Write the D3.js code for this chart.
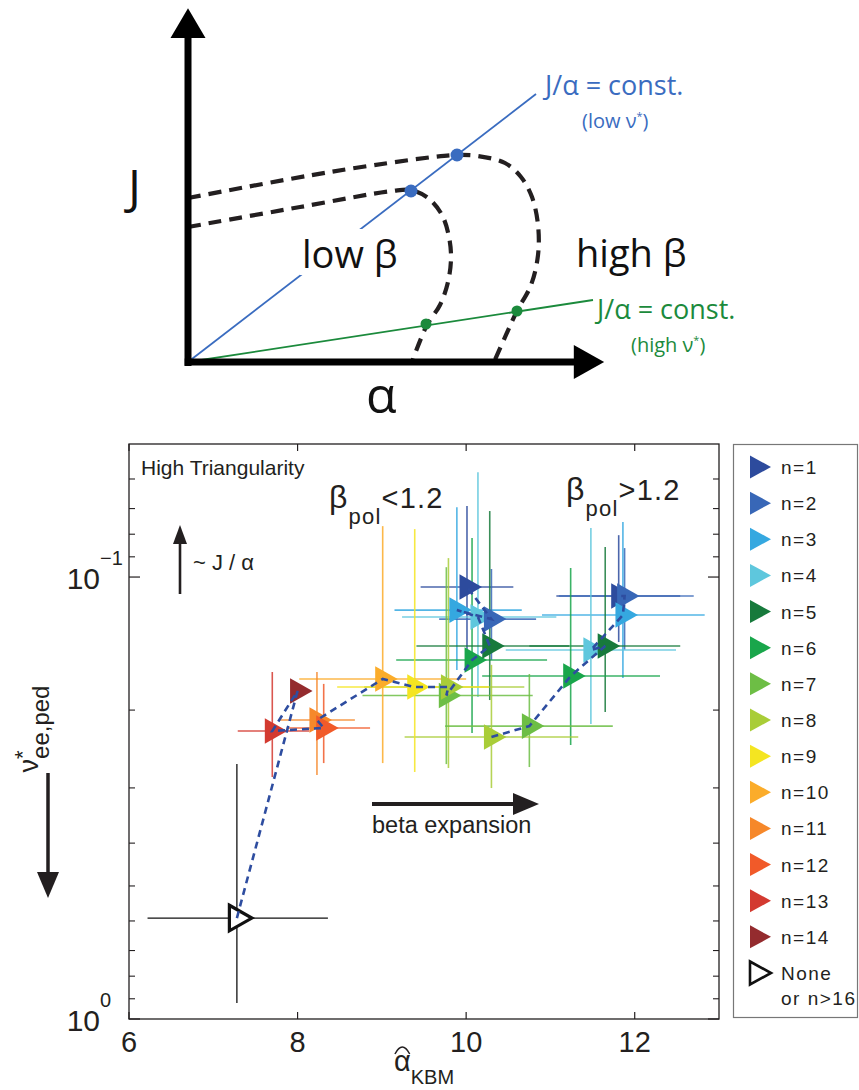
<!DOCTYPE html>
<html>
<head>
<meta charset="utf-8">
<script src="https://cdn.jsdelivr.net/npm/d3@7/dist/d3.min.js"></script>
<style>
html,body{margin:0;padding:0;background:#fff;}
svg{display:block;}
</style>
</head>
<body>
<svg id="chart" width="859" height="1090"></svg>
<script>
// ================= DATA =================
// Legend / series
const seriesNames  = ["n=1","n=2","n=3","n=4","n=5","n=6","n=7","n=8","n=9","n=10","n=11","n=12","n=13","n=14","None"];
const seriesExtra  = "or n>16";
const seriesColors = ["#2d4b9d","#3867b7","#35a8e0","#5ec7dd","#177a3c","#19a64b","#6dbe45","#a9cd38","#f4e521","#fbac2a","#f6882a","#f15a29","#d33a30","#942b2e","none"];

// Points (drawing order). Series index: 0 -> n=1 ... 13 -> n=14, 14 -> None or n>16
const ptSeries   = [0,1,2,3,4,5, 0,2,3,1,5,4, 6,7, 6,7, 8,9,10,11,12,13,14];
const ptAlpha    = [11.81,11.88,11.86,11.48,11.65,11.24, 10.01,9.89,10.14,10.30,10.07,10.28, 9.765,9.79, 10.75,10.30, 9.39,9.01,8.23,8.31,7.70,8.00,7.28];
const ptNu       = [0.1104,0.1104,0.1219,0.1463,0.1432,0.1675, 0.1053,0.1188,0.1231,0.1245,0.1541,0.1432, 0.1853,0.1774, 0.2174,0.2301, 0.1774,0.1701,0.2106,0.2195,0.2230,0.1811,0.591];
const ptAlphaLo  = [11.07,11.10,10.90,10.47,10.75,10.19, 9.46,9.15,9.24,9.68,9.17,9.41, 8.77,8.79, 9.75,9.27, 8.47,8.02,7.79,7.87,7.29,8.00,6.22];
const ptAlphaHi  = [12.54,12.70,12.83,12.49,12.54,12.30, 10.56,10.66,11.07,10.83,10.96,11.22, 10.79,10.69, 11.74,11.33, 10.27,10.00,8.68,8.86,8.14,8.00,8.36];
const ptNuLo     = [0.0804,0.0860,0.0751,0.0775,0.0855,0.0954, 0.0691,0.0695,0.0579,0.0959,0.0816,0.0709, 0.095,0.0906, 0.1657,0.158, 0.0779,0.0767,0.164,0.1745,0.164,0.1811,0.265];
const ptNuHi     = [0.1403,0.146,0.1692,0.2151,0.202,0.2399, 0.150,0.1623,0.1868,0.154,0.2254,0.1898, 0.265,0.2704, 0.2691,0.3002, 0.2761,0.2636,0.2805,0.2636,0.2835,0.1811,0.920];

// Dashed trajectories (indices into the point arrays, in decreasing n)
const pathLowBeta  = [22,21,20,19,18,17,16,13,12,10,11,8,7,9,6];
const pathHighBeta = [15,14,5,4,3,2,1,0];

// Axes ticks
const xTickValues  = [6,8,10,12];
const yTickValues  = [0.1,1];
const yTickExps    = ["\u22121","0"];
const yMinorTicks  = [0.06,0.07,0.08,0.09,0.2,0.3,0.4,0.5,0.6,0.7,0.8,0.9];

// Schematic (alpha, J) in arbitrary units
const schemLowBeta  = [[0,3.293],[2.732,3.780],[4.976,4.171],[5.439,4.195],[5.854,4.000],[6.195,3.585],[6.366,3.049],[6.415,2.537],[6.341,1.951],[6.146,1.390],[5.829,0.902],[5.463,0]];
const schemHighBeta = [[0,4.000],[3.463,4.634],[5.976,4.999],[6.561,5.049],[7.073,5.024],[7.732,4.854],[8.122,4.512],[8.390,4.024],[8.537,3.341],[8.537,2.610],[8.366,1.878],[8.024,1.244],[7.756,0.659],[7.463,0]];
const constLowNu    = [8.488,6.537];
const constHighNu   = [9.878,1.512];
const dotsLowNu     = [[5.439,4.171],[6.561,5.049]];
const dotsHighNu    = [[5.805,0.927],[8.024,1.244]];

// ================= DRAW =================
const svg = d3.select("#chart");
const FB = "'Liberation Sans', Arial, Helvetica, sans-serif";
const FT = "'Open Sans', 'Noto Sans', sans-serif";
const INK = "#231f20";
const BLUE = "#3a6cc0", GREEN = "#1b8a3c";

// ---------- Schematic ----------
const sa = d3.scaleLinear().domain([0,10]).range([188,598]);
const sj = d3.scaleLinear().domain([0,8]).range([362,34]);
const sch = svg.append("g");

sch.append("line").attr("x1",sa(0)).attr("y1",sj(0)).attr("x2",sa(constLowNu[0])).attr("y2",sj(constLowNu[1]))
  .attr("stroke",BLUE).attr("stroke-width",1.8);
sch.append("line").attr("x1",sa(0)).attr("y1",sj(0)).attr("x2",sa(constHighNu[0])).attr("y2",sj(constHighNu[1]))
  .attr("stroke",GREEN).attr("stroke-width",1.8);

// low beta label with white background
sch.append("rect").attr("x",300).attr("y",229).attr("width",102).attr("height",46).attr("fill","#fff");
sch.append("text").attr("x",302).attr("y",268).attr("font-family",FT).attr("font-size",38).attr("fill","#111").text("low β");
sch.append("text").attr("x",576).attr("y",267).attr("font-family",FT).attr("font-size",38).attr("fill","#111").text("high β");

const schLine = d3.line().x(d=>sa(d[0])).y(d=>sj(d[1])).curve(d3.curveCatmullRom.alpha(0.5));
[schemLowBeta, schemHighBeta].forEach(c=>{
  sch.append("path").attr("d",schLine(c)).attr("fill","none").attr("stroke",INK)
    .attr("stroke-width",4.2).attr("stroke-dasharray","13,8");
});

dotsLowNu.forEach(d=>sch.append("circle").attr("cx",sa(d[0])).attr("cy",sj(d[1])).attr("r",6.5).attr("fill",BLUE));
dotsHighNu.forEach(d=>sch.append("circle").attr("cx",sa(d[0])).attr("cy",sj(d[1])).attr("r",5.5).attr("fill",GREEN));

// axes
sch.append("line").attr("x1",sa(0)).attr("y1",sj(-0.1)).attr("x2",sa(0)).attr("y2",sj(7.9)).attr("stroke","#000").attr("stroke-width",7);
sch.append("path").attr("d",`M${sa(0)-17.5},${sj(7.9)}L${sa(0)+17.5},${sj(7.9)}L${sa(0)},${sj(8.63)}Z`).attr("fill","#000");
sch.append("line").attr("x1",sa(-0.08)).attr("y1",sj(0)).attr("x2",sa(9.42)).attr("y2",sj(0)).attr("stroke","#000").attr("stroke-width",7);
sch.append("path").attr("d",`M${sa(9.41)},${sj(0)-17}L${sa(10.15)},${sj(0)}L${sa(9.41)},${sj(0)+17}Z`).attr("fill","#000");

sch.append("text").attr("x",128).attr("y",204).attr("font-family",FT).attr("font-size",48).attr("fill","#111").text("J");
sch.append("text").attr("x",366).attr("y",413).attr("font-family",FT).attr("font-size",50).attr("fill","#111").text("α");

function constLabel(x0,y0,x1,y1,col,sub){
  sch.append("text").attr("x",x0).attr("y",y0).attr("font-family",FT).attr("font-size",27).attr("fill",col).text("J/α = const.");
  const t = sch.append("text").attr("x",x1).attr("y",y1).attr("font-family",FT).attr("font-size",20).attr("fill",col);
  t.append("tspan").text("("+sub+" ν");
  t.append("tspan").attr("font-size",11).attr("dy",-8).text("*");
  t.append("tspan").attr("dy",8).text(")");
}
constLabel(545,95,582,128,BLUE,"low");
constLabel(597,319,631,352,GREEN,"high");

// ---------- Bottom plot ----------
const P = {l:129, r:719, t:444, b:1019};
const x = d3.scaleLinear().domain([6,13]).range([P.l,P.r]);
const y = d3.scaleLog().domain([0.05,1]).range([P.t,P.b]);
const g = svg.append("g");

// error bars
const eb = g.append("g");
ptAlpha.forEach((a,i)=>{
  const s = ptSeries[i];
  const col = s===14 ? "#111" : seriesColors[s];
  const w = s===14 ? 1.3 : 1.6;
  const op = s===14 ? 1 : 0.85;
  eb.append("line").attr("x1",x(ptAlphaLo[i])).attr("x2",x(ptAlphaHi[i])).attr("y1",y(ptNu[i])).attr("y2",y(ptNu[i]))
    .attr("stroke",col).attr("stroke-width",w).attr("stroke-opacity",op);
  eb.append("line").attr("x1",x(a)).attr("x2",x(a)).attr("y1",y(ptNuLo[i])).attr("y2",y(ptNuHi[i]))
    .attr("stroke",col).attr("stroke-width",w).attr("stroke-opacity",op);
});

// markers
const tri = "M-7.5,-12.8L15,0L-7.5,12.8Z";
const mk = g.append("g");
ptAlpha.forEach((a,i)=>{
  const s = ptSeries[i];
  const p = mk.append("path").attr("d",tri).attr("transform",`translate(${x(a)},${y(ptNu[i])})`);
  if (s===14) p.attr("fill","#fff").attr("stroke","#111").attr("stroke-width",3.2).attr("stroke-linejoin","miter");
  else p.attr("fill",seriesColors[s]);
});

// dashed trajectories
const trj = d3.line().x(i=>x(ptAlpha[i])).y(i=>y(ptNu[i]));
[pathLowBeta, pathHighBeta].forEach(pth=>{
  g.append("path").attr("d",trj(pth)).attr("fill","none").attr("stroke","#2e4da0")
    .attr("stroke-width",2.6).attr("stroke-dasharray","7,5");
});

// frame
g.append("rect").attr("x",P.l).attr("y",P.t).attr("width",P.r-P.l).attr("height",P.b-P.t)
  .attr("fill","none").attr("stroke",INK).attr("stroke-width",1.3);

// x ticks
xTickValues.forEach(v=>{
  g.append("line").attr("x1",x(v)).attr("x2",x(v)).attr("y1",P.b).attr("y2",P.b-7).attr("stroke",INK).attr("stroke-width",1.2);
  g.append("line").attr("x1",x(v)).attr("x2",x(v)).attr("y1",P.t).attr("y2",P.t+7).attr("stroke",INK).attr("stroke-width",1.2);
  g.append("text").attr("x",x(v)).attr("y",1052).attr("text-anchor","middle").attr("font-family",FB)
    .attr("font-size",29).attr("fill",INK).text(v);
});
// y ticks
yTickValues.forEach((v,i)=>{
  g.append("line").attr("x1",P.l).attr("x2",P.l+11).attr("y1",y(v)).attr("y2",y(v)).attr("stroke",INK).attr("stroke-width",1.2);
  g.append("line").attr("x1",P.r).attr("x2",P.r-11).attr("y1",y(v)).attr("y2",y(v)).attr("stroke",INK).attr("stroke-width",1.2);
  g.append("text").attr("x",100).attr("y",y(v)+12).attr("text-anchor","end").attr("font-family",FB)
    .attr("font-size",30).attr("fill",INK).text("10");
  g.append("text").attr("x",100).attr("y",y(v)-12).attr("font-family",FB)
    .attr("font-size",20).attr("fill",INK).text(yTickExps[i]);
});
yMinorTicks.forEach(v=>{
  g.append("line").attr("x1",P.l).attr("x2",P.l+6).attr("y1",y(v)).attr("y2",y(v)).attr("stroke",INK).attr("stroke-width",1.1);
  g.append("line").attr("x1",P.r).attr("x2",P.r-6).attr("y1",y(v)).attr("y2",y(v)).attr("stroke",INK).attr("stroke-width",1.1);
});

// x label
const xl = g.append("text").attr("x",(P.l+P.r)/2).attr("y",1071).attr("text-anchor","middle")
  .attr("font-family",FB).attr("font-size",29).attr("fill",INK);
xl.append("tspan").text("α");
xl.append("tspan").attr("font-size",20).attr("dy",13).text("KBM");
const a0 = xl.node().getStartPositionOfChar(0).x, a1 = xl.node().getEndPositionOfChar(0).x;
g.append("path").attr("d",`M${a0+1},1054 Q${(a0+a1)/2},1040 ${a1-1},1054`).attr("fill","none")
  .attr("stroke",INK).attr("stroke-width",1.5);

// y label (rotated)
const ylg = g.append("g").attr("transform","translate(38,729) rotate(-90)");
const ylt = ylg.append("text").attr("text-anchor","middle").attr("font-family",FB).attr("font-size",27).attr("fill",INK);
ylt.append("tspan").text("ν");
const star = ylt.append("tspan").attr("font-size",22).attr("dy",-8).text("*");
const subT = ylt.append("tspan").attr("font-size",24).attr("dy",19).text("ee,ped");
subT.attr("dx",-star.node().getComputedTextLength());

// y-label arrow
g.append("line").attr("x1",48).attr("x2",48).attr("y1",773).attr("y2",876).attr("stroke",INK).attr("stroke-width",3.5);
g.append("path").attr("d","M37,872L59,872L48,898Z").attr("fill",INK);

// annotations
g.append("text").attr("x",141).attr("y",475).attr("font-family",FB).attr("font-size",21).attr("fill",INK).text("High Triangularity");
g.append("line").attr("x1",180).attr("x2",180).attr("y1",594).attr("y2",540).attr("stroke",INK).attr("stroke-width",2.6);
g.append("path").attr("d","M173,544L187,544L180,525Z").attr("fill",INK);
g.append("text").attr("x",193).attr("y",570).attr("font-family",FB).attr("font-size",22).attr("fill",INK).text("~ J / α");

function betaLabel(x0,y0,rest){
  const t = g.append("text").attr("x",x0).attr("y",y0).attr("font-family",FB).attr("font-size",29)
    .attr("fill",INK).attr("letter-spacing",1.2);
  t.append("tspan").attr("font-size",32).text("β");
  t.append("tspan").attr("font-size",22).attr("dy",16).text("pol");
  t.append("tspan").attr("dy",-16).text(rest);
}
betaLabel(329,508,"<1.2");
betaLabel(566,500,">1.2");

g.append("line").attr("x1",372).attr("x2",516).attr("y1",804).attr("y2",804).attr("stroke",INK).attr("stroke-width",4);
g.append("path").attr("d","M513,793L539,804L513,815Z").attr("fill",INK);
g.append("text").attr("x",372).attr("y",833).attr("font-family",FB).attr("font-size",23.5).attr("fill",INK).text("beta expansion");

// ---------- Legend ----------
const lg = svg.append("g");
lg.append("rect").attr("x",733.5).attr("y",444.5).attr("width",124).attr("height",573)
  .attr("fill","#fff").attr("stroke","#777").attr("stroke-width",1.2);
const rowY = d3.scaleLinear().domain([0,seriesNames.length-1]).range([467,973]);
const ltri = "M-7,-11.5L14,0L-7,11.5Z";
seriesNames.forEach((nm,i)=>{
  const p = lg.append("path").attr("d",ltri).attr("transform",`translate(757,${rowY(i)})`);
  if (seriesColors[i]==="none") p.attr("fill","#fff").attr("stroke","#111").attr("stroke-width",2.6);
  else p.attr("fill",seriesColors[i]);
  lg.append("text").attr("x",781).attr("y",rowY(i)+7).attr("font-family",FB).attr("font-size",19)
    .attr("letter-spacing",1.5).attr("fill",INK).text(nm);
});
lg.append("text").attr("x",781).attr("y",rowY(seriesNames.length-1)+32).attr("font-family",FB).attr("font-size",19)
  .attr("letter-spacing",1.5).attr("fill",INK).text(seriesExtra);
</script>
</body>
</html>
